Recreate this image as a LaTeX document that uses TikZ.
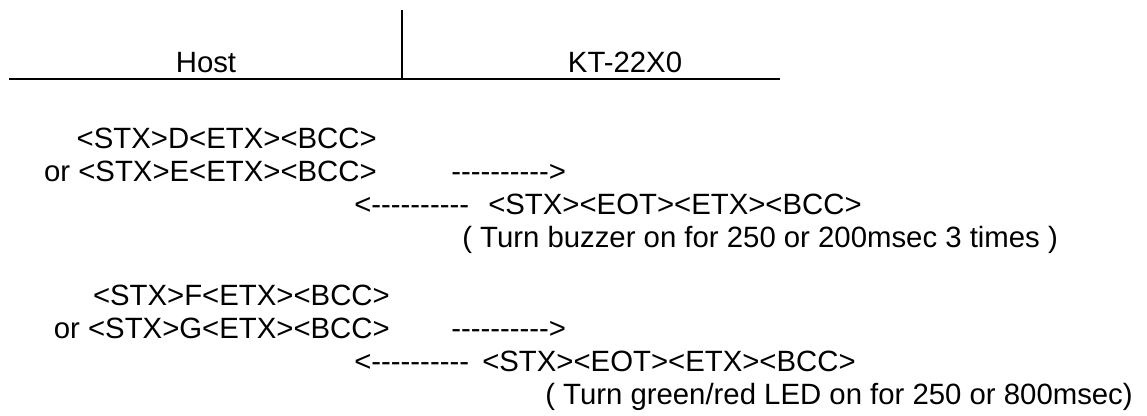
\documentclass[tikz,border=0pt]{standalone}
\usepackage{fontspec}
\newfontfamily\msgfont{Liberation Sans}
\usepackage{tikz}
\usetikzlibrary{positioning,calc}

\begin{document}
\begin{tikzpicture}[x=0.75pt,y=-0.75pt,
          msg/.style={font=\msgfont\fontsize{22}{26}\selectfont,
            inner sep=0pt, anchor=base west},
          req/.style={msg, anchor=base east},
          head/.style={msg, anchor=base},
          rule/.style={line width=1.4pt}
        ]
          \useasboundingbox (0,0) rectangle (1147,415);
          % header
          \node[head] (host) at (206,72) {Host};
          \node[head] (kt) at (625,72) {KT-22X0};
          \coordinate (top) at (402,10);
          \coordinate (mid) at (402,79);
          \coordinate (left) at (9,79);
          \coordinate (right) at (780,79);
          \draw[rule, line width=1.2pt] (top) -- (mid);
          \draw[rule] (left) -- (right);
          % first exchange
          \node[req] (d) at (377,148) {<STX>D<ETX><BCC>};
          \node[req] (e) at (377,181) {or <STX>E<ETX><BCC>};
          \node[msg] (go1) at (451,181) {---------->};
          \node[msg] (back1) at (354,214) {<----------};
          \node[msg] (ack1) at (488,214) {<STX><EOT><ETX><BCC>};
          \node[msg] (note1) at (462,247) {( Turn buzzer on for 250 or 200msec 3 times )};
          % second exchange
          \node[req] (f) at (390,305) {<STX>F<ETX><BCC>};
          \node[req] (g) at (390,338) {or <STX>G<ETX><BCC>};
          \node[msg] (go2) at (451,338) {---------->};
          \node[msg] (back2) at (354,371) {<----------};
          \node[msg] (ack2) at (482,371) {<STX><EOT><ETX><BCC>};
          \node[msg] (note2) at (545,404) {( Turn green/red LED on for 250 or 800msec)};
        \end{tikzpicture}
\end{document}
